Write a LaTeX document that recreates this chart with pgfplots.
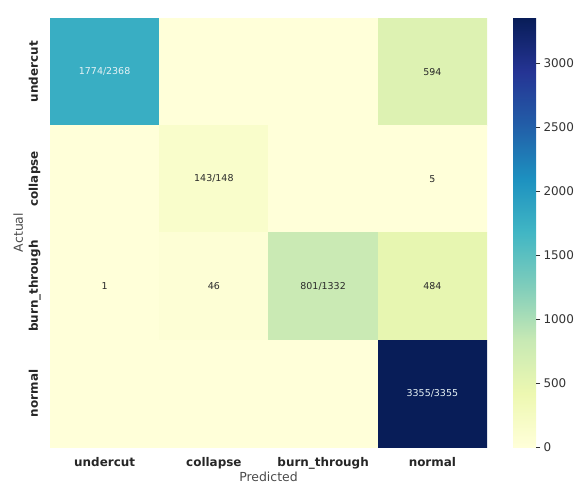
\documentclass[border=0pt]{standalone}
\usepackage{pgfplots}
\usepackage{pgfplotstable}
\pgfplotsset{compat=1.18}
\usetikzlibrary{plotmarks}
\usepackage{fontspec}
\setmainfont{DejaVu Sans}

\definecolor{labelgrey}{HTML}{4A4A4A}
\definecolor{tickgrey}{HTML}{333333}
\definecolor{annodark}{HTML}{2B2B2B}
\definecolor{annolight}{HTML}{E6F2F5}

% confusion matrix counts: column x = predicted, row y = actual
\pgfplotstableread{
x y c
0 0 1774
1 0 0
2 0 0
3 0 594
0 1 0
1 1 143
2 1 0
3 1 5
0 2 1
1 2 46
2 2 801
3 2 484
0 3 0
1 3 0
2 3 0
3 3 3355
}\cells

% cell annotations on light cells
\pgfplotstableread{
x y label
3 0 594
1 1 143/148
3 1 5
0 2 1
1 2 46
2 2 801/1332
3 2 484
}\annodarktab

% cell annotations on dark cells
\pgfplotstableread{
x y label
0 0 1774/2368
3 3 3355/3355
}\annolighttab

\begin{document}
\begin{tikzpicture}
\begin{axis}[
  at={(0,0)}, anchor=south west,
  scale only axis,
  width=437bp, height=429bp,
  xmin=-0.5, xmax=3.5, ymin=-0.5, ymax=3.5,
  y dir=reverse,
  enlargelimits=false,
  axis line style={draw=none},
  major tick length=0pt,
  xtick={0,1,2,3}, ytick={0,1,2,3},
  xticklabels={undercut,collapse,burn\_through,normal},
  yticklabels={undercut,collapse,burn\_through,normal},
  xticklabel style={font=\fontsize{12}{14}\selectfont\bfseries, text=black!85, anchor=base, yshift=-19bp},
  yticklabel style={font=\fontsize{12}{14}\selectfont\bfseries, text=black!85, rotate=90, anchor=base, yshift=12bp},
  xlabel={Predicted},
  ylabel={Actual},
  xlabel style={at={(axis description cs:0.5,0)}, anchor=base, yshift=-34.5bp, font=\fontsize{12.5}{14}\selectfont, text=labelgrey},
  ylabel style={at={(axis description cs:0,0.5)}, anchor=base, yshift=27bp, font=\fontsize{12.5}{14}\selectfont, text=labelgrey},
  colormap={ylgnbu}{rgb255=(255,255,217) rgb255=(237,248,177) rgb255=(199,233,180) rgb255=(127,205,187) rgb255=(65,182,196) rgb255=(29,145,192) rgb255=(34,94,168) rgb255=(37,52,148) rgb255=(8,29,88)},
  point meta min=0, point meta max=3355,
  colorbar,
  colorbar/width=23bp,
  colorbar shift/.style={xshift=0pt},
  colorbar style={
    at={(parent axis.north east)}, anchor=north west, xshift=26bp,
    scale only axis,
    height=429bp,
    axis line style={draw=none},
    ytick=\empty,
  },
]
\addplot[matrix plot*, mesh/cols=4, point meta=explicit] table[x=x, y=y, meta=c] {\cells};

\addplot[only marks, mark=*, mark options={draw=none, fill=none}, mark size=0.1pt,
  point meta=explicit symbolic,
  nodes near coords,
  nodes near coords align={center},
  every node near coord/.append style={anchor=center, font=\fontsize{9.5}{11}\selectfont, text=annodark}]
  table[x=x, y=y, meta=label] {\annodarktab};

\addplot[only marks, mark=*, mark options={draw=none, fill=none}, mark size=0.1pt,
  point meta=explicit symbolic,
  nodes near coords,
  nodes near coords align={center},
  every node near coord/.append style={anchor=center, font=\fontsize{9.5}{11}\selectfont, text=annolight}]
  table[x=x, y=y, meta=label] {\annolighttab};
\end{axis}

% tick scale of the colour bar
\begin{axis}[
  at={(463bp,0)}, anchor=south west,
  scale only axis,
  width=23bp, height=429bp,
  xmin=0, xmax=1, ymin=0, ymax=3355,
  clip=false,
  axis line style={draw=none},
  xtick=\empty,
  ytick={0,500,1000,1500,2000,2500,3000},
  yticklabels={0,500,1000,1500,2000,2500,3000},
  ytick pos=right,
  yticklabel pos=right,
  tick align=outside,
  major tick length=4bp,
  tick style={draw=tickgrey, line width=0.7pt},
  yticklabel style={font=\fontsize{12}{14}\selectfont, text=tickgrey},
]
% short tick dashes just right of the bar
\addplot[only marks, mark=-, mark size=2bp,
  mark options={xshift=2bp, draw=tickgrey, line width=0.7pt}]
  coordinates {(1,0) (1,500) (1,1000) (1,1500) (1,2000) (1,2500) (1,3000)};
\end{axis}
\pgfresetboundingbox
\useasboundingbox (-50bp,-36bp) rectangle (527bp,447bp);
\end{tikzpicture}
\end{document}
